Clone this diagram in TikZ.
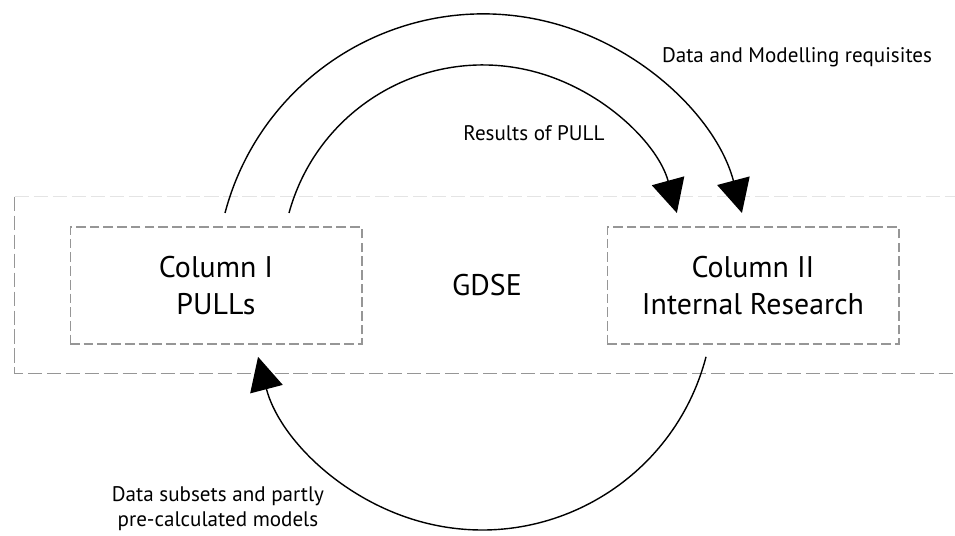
\documentclass[tikz,border=0pt]{standalone}
\usepackage{fontspec}
\setmainfont{PT Sans}
\usepackage{tikz}
\usetikzlibrary{arrows.meta,positioning}
\definecolor{gdgray}{RGB}{150,150,150}
\definecolor{gdlight}{RGB}{228,228,228}
\tikzstyle{flow} = [line width=0.8pt,-{Triangle[length=19pt,width=19pt]}]
\tikzstyle{frame} = [draw=gdgray, line width=0.6pt, dash pattern=on 8pt off 2.8pt]
\tikzstyle{column} = [rectangle, draw=gdgray, line width=0.6pt, dash pattern=on 5.5pt off 2.3pt, minimum width=5.84cm, minimum height=2.34cm, align=center, font=\fontsize{17}{21.5}\selectfont]
\tikzstyle{note} = [align=center, font=\fontsize{12}{14.2}\selectfont]

\begin{document}
\begin{tikzpicture}[x=0.02cm, y=0.02cm]
\useasboundingbox (0,0) rectangle (955,536);

% Outer GDSE frame
\node (gdse) [minimum width=18.88cm, minimum height=3.52cm, font=\fontsize{17}{21.5}\selectfont] at (487,251) {GDSE};
\draw[frame] (gdse.north west) -- (gdse.south west) -- (gdse.south east);
\draw[frame, draw=gdlight] (gdse.north west) -- (gdse.north east);

% Columns
\node (col1) [column] at (216,250.5) {Column I\\PULLs};
\node (col2) [column] at (753,250.5) {Column II\\Internal Research};

% Flows from column I to column II
\coordinate (req start) at (225,323);
\coordinate (res start) at (289,323);
\draw[flow] (req start) arc[start angle=165.2, end angle=14.8, radius=5.348cm];
\draw[flow] (res start) arc[start angle=164.7, end angle=15.3, radius=4.022cm];

% Flow back from column II to column I
\coordinate (sub start) at (706,179.15);
\draw[flow] (sub start) arc[start angle=-14.6, end angle=-165.4, radius=4.63cm];

% Labels
\node (req) [note] at (797,479) {Data and Modelling requisites};
\node (res) [note] at (534,403) {Results of PULL};
\node (sub) [note] at (218,27.5) {Data subsets and partly\\pre-calculated models};
\end{tikzpicture}
\end{document}
